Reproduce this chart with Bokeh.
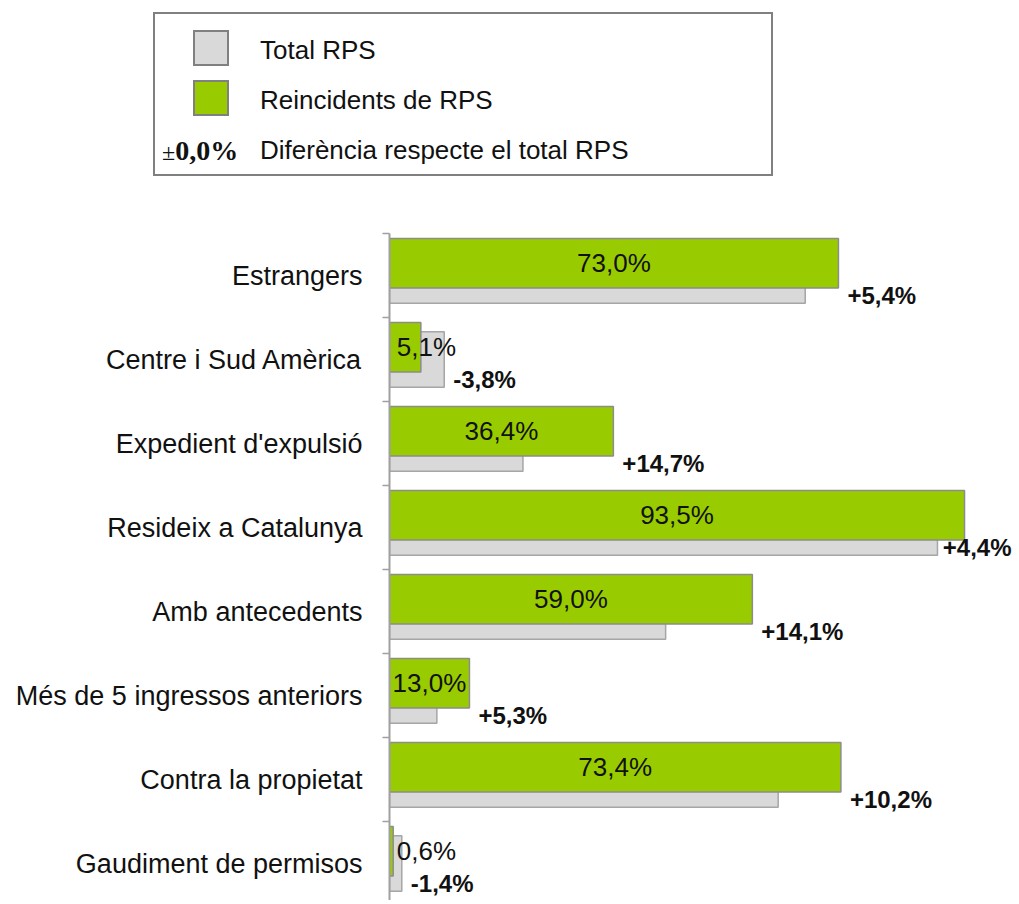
from bokeh.plotting import figure
from bokeh.layouts import column
from bokeh.models import ColumnDataSource, Range1d, FixedTicker, LabelSet, Div
from bokeh.core.properties import value
from bokeh.embed import file_html
from bokeh.resources import INLINE

# ---- data ----
categories = ["Estrangers", "Centre i Sud Amèrica", "Expedient d'expulsió",
              "Resideix a Catalunya", "Amb antecedents", "Més de 5 ingressos anteriors",
              "Contra la propietat", "Gaudiment de permisos"]
reincidents = [73.0, 5.1, 36.4, 93.5, 59.0, 13.0, 73.4, 0.6]
difference = [5.4, -3.8, 14.7, 4.4, 14.1, 5.3, 10.2, -1.4]
total_rps = [round(r - d, 1) for r, d in zip(reincidents, difference)]

legend_labels = ["Total RPS", "Reincidents de RPS", "Diferència respecte el total RPS"]
legend_symbol = "0,0%"

# ---- layout constants ----
FIG_W = 1017
TOP_H = 200
MAIN_H = 700
BORDER_LEFT, BORDER_TOP = 389, 33
FRAME_W = FIG_W - BORDER_LEFT
FRAME_H = MAIN_H - BORDER_TOP
PX_PER_PCT = 6.15
BAND_PX = 84.0
FONT = "Liberation Sans"
GREEN = "#99CC00"
GRAY = "#D9D9D9"
TXT = "#111111"

n = len(categories)
idx = list(range(n))
src = ColumnDataSource(dict(
    cat=categories,
    reinc=reincidents,
    total=total_rps,
    y_green=[i + 0.355 for i in idx],
    y_gray=[i + 0.5 for i in idx],
    y_diff=[i + 0.74 for i in idx],
    val_x=[max(v / 2.0, 6.0) for v in reincidents],
    val_txt=[f"{v:.1f}%".replace(".", ",") for v in reincidents],
    diff_x=[min(max(r, t), 88.5) for r, t in zip(reincidents, total_rps)],
    diff_txt=[f"{d:+.1f}%".replace(".", ",") for d in difference],
))

# ---------------- legend panel (top) ----------------
swatches = [(GRAY, legend_labels[0]), (GREEN, legend_labels[1])]
rows_html = []
for k, (col, lab) in enumerate(swatches):
    cy = 50 + 50 * k
    rows_html.append(
        f'<div style="position:absolute;left:193px;top:{cy - 20}px;width:36px;height:36px;'
        f'border:2px solid #808080;background:{col};"></div>'
        f'<div style="position:absolute;left:260px;top:{cy - 15}px;font-size:26px;'
        f'line-height:30px;white-space:nowrap;">{lab}</div>')
rows_html.append(
    '<div style="position:absolute;left:162px;top:136px;font-family:\'Liberation Serif\',serif;'
    'font-size:28px;line-height:30px;font-weight:bold;white-space:nowrap;">'
    f'<span style="font-weight:normal;font-size:24px">±</span>{legend_symbol}</div>'
    f'<div style="position:absolute;left:260px;top:135px;font-size:26px;line-height:30px;'
    f'white-space:nowrap;">{legend_labels[2]}</div>')
legend_html = (
    f'<div style="position:relative;width:{FIG_W}px;height:{TOP_H}px;'
    f'font-family:\'{FONT}\',Arial,sans-serif;color:{TXT};">'
    '<div style="position:absolute;left:153px;top:12px;width:620px;height:164px;'
    'border:2px solid #808080;background:white;"></div>'
    + "".join(rows_html) + '</div>')
leg = Div(text=legend_html, width=FIG_W, height=TOP_H, margin=(0, 0, 0, 0))

# ---------------- main chart ----------------
p = figure(width=FIG_W, height=MAIN_H, output_backend="svg", toolbar_location=None,
           x_range=Range1d(0, FRAME_W / PX_PER_PCT),
           y_range=Range1d(FRAME_H / BAND_PX, 0),
           x_axis_location=None, min_border_left=BORDER_LEFT, min_border_top=BORDER_TOP,
           min_border_right=0, min_border_bottom=0, margin=(0, 0, 0, 0))
p.outline_line_color = None
p.xgrid.visible = False
p.ygrid.visible = False

p.hbar(y="y_gray", left=0, right="total", height=0.66, source=src,
       fill_color=GRAY, line_color="#A6A6A6", line_width=1.5)
p.hbar(y="y_green", left=0, right="reinc", height=0.59, source=src,
       fill_color=GREEN, line_color="#8C8C8C", line_width=1.5)

p.add_layout(LabelSet(x="val_x", y="y_green", text="val_txt", source=src,
                      text_align="center", text_baseline="middle",
                      text_font=value(FONT), text_font_size="26px", text_color=TXT))
p.add_layout(LabelSet(x="diff_x", y="y_diff", text="diff_txt", source=src,
                      x_offset=9, text_align="left", text_baseline="middle",
                      text_font=value(FONT), text_font_size="24px",
                      text_font_style="bold", text_color=TXT))

ax = p.yaxis[0]
ax.ticker = FixedTicker(ticks=[i + 0.5 for i in idx], minor_ticks=list(range(n + 1)))
ax.major_label_overrides = {i + 0.5: c for i, c in enumerate(categories)}
ax.major_tick_line_color = None
ax.major_tick_out = 0
ax.major_tick_in = 0
ax.minor_tick_out = 7
ax.minor_tick_in = 0
ax.minor_tick_line_color = "#A0A0A0"
ax.minor_tick_line_width = 1.5
ax.axis_line_color = "#A0A0A0"
ax.axis_line_width = 2
ax.major_label_standoff = 20
ax.major_label_text_font = FONT
ax.major_label_text_font_size = "27px"
ax.major_label_text_color = TXT

layout = column(leg, p, spacing=0)
open("out.html", "w").write(file_html(layout, INLINE))
